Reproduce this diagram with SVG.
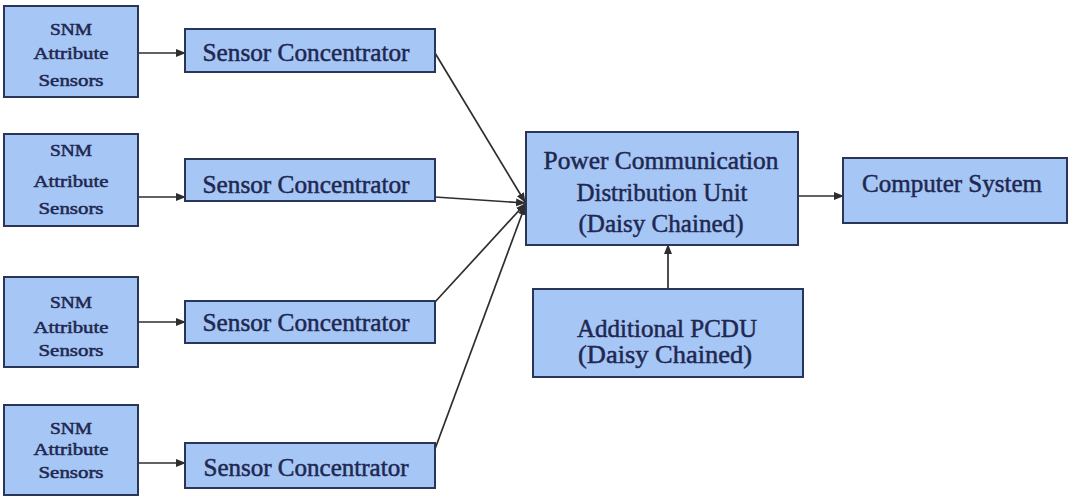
<svg xmlns="http://www.w3.org/2000/svg" width="1070" height="497" viewBox="0 0 1070 497">
<style>
.box{fill:#a6c6f6;stroke:#2a3658;stroke-width:2}
.t{font-family:'Liberation Serif','Times New Roman','DejaVu Serif',serif;fill:#1f2850;text-anchor:middle;stroke:#1f2850;stroke-width:0.5}
.s{font-size:16px}
.c{font-size:25px}
.l{fill:none;stroke:#2e2e2e;stroke-width:1.7}
</style>
<defs>
<marker id="ah" viewBox="0 0 10 10" refX="9" refY="5" markerWidth="10" markerHeight="10" markerUnits="userSpaceOnUse" orient="auto">
<path d="M0,1 L10,5 L0,9 z" fill="#2e2e2e"/>
</marker>
</defs>
<rect width="1070" height="497" fill="#fff"/>
<g id="connectors">
<line class="l" x1="138" y1="53" x2="185" y2="53" marker-end="url(#ah)"/>
<line class="l" x1="138" y1="197" x2="185" y2="197" marker-end="url(#ah)"/>
<line class="l" x1="138" y1="322" x2="185" y2="322" marker-end="url(#ah)"/>
<line class="l" x1="138" y1="463" x2="185" y2="463" marker-end="url(#ah)"/>
<line class="l" x1="435" y1="53" x2="525" y2="202" marker-end="url(#ah)"/>
<line class="l" x1="435" y1="197" x2="525" y2="203" marker-end="url(#ah)"/>
<line class="l" x1="435" y1="302" x2="525" y2="204" marker-end="url(#ah)"/>
<line class="l" x1="435" y1="449" x2="525" y2="206" marker-end="url(#ah)"/>
<line class="l" x1="798" y1="196" x2="843" y2="196" marker-end="url(#ah)"/>
<line class="l" x1="668" y1="289" x2="668" y2="245" marker-end="url(#ah)"/>
</g>
<g id="sensors1">
<rect class="box" x="4" y="6" width="134" height="91"/>
<text class="t s" x="71" y="35" textLength="42" lengthAdjust="spacingAndGlyphs">SNM</text>
<text class="t s" x="71" y="59" textLength="75" lengthAdjust="spacingAndGlyphs">Attribute</text>
<text class="t s" x="71" y="86" textLength="65" lengthAdjust="spacingAndGlyphs">Sensors</text>
</g>
<g id="sensors2">
<rect class="box" x="4" y="134" width="134" height="92"/>
<text class="t s" x="71" y="156" textLength="42" lengthAdjust="spacingAndGlyphs">SNM</text>
<text class="t s" x="71" y="187" textLength="75" lengthAdjust="spacingAndGlyphs">Attribute</text>
<text class="t s" x="71" y="214" textLength="65" lengthAdjust="spacingAndGlyphs">Sensors</text>
</g>
<g id="sensors3">
<rect class="box" x="4" y="277" width="134" height="90"/>
<text class="t s" x="71" y="308" textLength="42" lengthAdjust="spacingAndGlyphs">SNM</text>
<text class="t s" x="71" y="333" textLength="75" lengthAdjust="spacingAndGlyphs">Attribute</text>
<text class="t s" x="71" y="356" textLength="65" lengthAdjust="spacingAndGlyphs">Sensors</text>
</g>
<g id="sensors4">
<rect class="box" x="4" y="405" width="134" height="90"/>
<text class="t s" x="71" y="434" textLength="42" lengthAdjust="spacingAndGlyphs">SNM</text>
<text class="t s" x="71" y="455" textLength="75" lengthAdjust="spacingAndGlyphs">Attribute</text>
<text class="t s" x="71" y="478" textLength="65" lengthAdjust="spacingAndGlyphs">Sensors</text>
</g>
<g id="conc1">
<rect class="box" x="185" y="29" width="250" height="43"/>
<text class="t c" x="306" y="61" textLength="207" lengthAdjust="spacingAndGlyphs">Sensor Concentrator</text>
</g>
<g id="conc2">
<rect class="box" x="185" y="159" width="250" height="42"/>
<text class="t c" x="306" y="193" textLength="207" lengthAdjust="spacingAndGlyphs">Sensor Concentrator</text>
</g>
<g id="conc3">
<rect class="box" x="185" y="301" width="250" height="42"/>
<text class="t c" x="306" y="331" textLength="207" lengthAdjust="spacingAndGlyphs">Sensor Concentrator</text>
</g>
<g id="conc4">
<rect class="box" x="185" y="443" width="250" height="45"/>
<text class="t c" x="306" y="476" textLength="205" lengthAdjust="spacingAndGlyphs">Sensor Concentrator</text>
</g>
<g id="pcdu">
<rect class="box" x="526" y="132" width="272" height="113"/>
<text class="t c" x="661" y="169" textLength="235" lengthAdjust="spacingAndGlyphs">Power Communication</text>
<text class="t c" x="662" y="201" textLength="171" lengthAdjust="spacingAndGlyphs">Distribution Unit</text>
<text class="t c" x="661" y="232" textLength="165" lengthAdjust="spacingAndGlyphs">(Daisy Chained)</text>
</g>
<g id="computer">
<rect class="box" x="843" y="158" width="224" height="65"/>
<text class="t c" x="952" y="192" textLength="180" lengthAdjust="spacingAndGlyphs">Computer System</text>
</g>
<g id="additional">
<rect class="box" x="533" y="289" width="270" height="88"/>
<text class="t c" x="667" y="337" textLength="180" lengthAdjust="spacingAndGlyphs">Additional PCDU</text>
<text class="t c" x="665" y="363" textLength="174" lengthAdjust="spacingAndGlyphs">(Daisy Chained)</text>
</g>
</svg>
